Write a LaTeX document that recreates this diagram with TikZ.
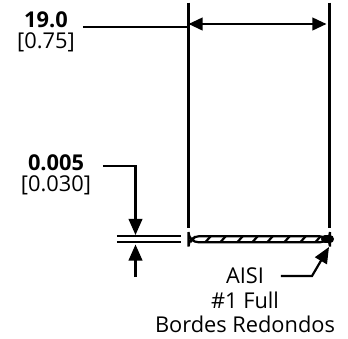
\documentclass[tikz,border=0pt]{standalone}
\usepackage{fontspec}
\setmainfont{Open Sans}
\usetikzlibrary{calc}
\usetikzlibrary{arrows.meta}
\usetikzlibrary{positioning}
\tikzset{
    dimline/.style={draw=black, line width=0.022cm},
    dimarrow/.style={dimline, -{Triangle[length=0.16cm, width=0.135cm]}},
    dimtext/.style={color=black, font=\fontsize{6.2pt}{7pt}\selectfont, inner sep=0pt, anchor=center}
}
\begin{document}
\begin{tikzpicture}[x=0.01cm, y=-0.01cm]
            \useasboundingbox (0,0) rectangle (348,339);
            % edges of the strip
            \coordinate (lefttop)  at (188.5,2.5);
            \coordinate (leftbot)  at (188.5,228);
            \coordinate (righttop) at (329.5,2.5);
            \coordinate (rightbot) at (329.5,228);
            \draw[dimline] (lefttop) -- (leftbot);
            \draw[dimline] (righttop) -- (rightbot);
            % width
            \coordinate (widthl) at (188.5,24);
            \coordinate (widthr) at (326.5,24);
            \draw[dimline, {Triangle[length=0.14cm, width=0.125cm]}-{Triangle[length=0.14cm, width=0.125cm]}] (widthl) -- (widthr);
            \node[dimtext] (widthmm) at (46,19.5) {\textbf{19.0}};
            \node[dimtext] (widthin) at (46,42) {[0.75]};
            \coordinate (widthfrom) at (83,27);
            \coordinate (widthto)   at (188.5,27);
            \draw[dimline] (widthfrom) -- (widthto);
            % thickness
            \node[dimtext] (thickmm) at (56,163) {\textbf{0.005}};
            \node[dimtext] (thickin) at (56,185) {[0.030]};
            \coordinate (thickfrom) at (103,166);
            \coordinate (thickbend) at (135.5,166);
            \coordinate (thicktip)  at (135.5,235);
            \coordinate (thicklow)  at (135.5,277);
            \coordinate (thickup)   at (135.5,244.5);
            \draw[dimarrow] (thickfrom) -- (thickbend) -- (thicktip);
            \draw[dimarrow] (thicklow) -- (thickup);
            \coordinate (refal) at (117,236.3);
            \coordinate (refar) at (181,236.3);
            \coordinate (refbl) at (117,242.3);
            \coordinate (refbr) at (181,242.3);
            \draw[dimline] (refal) -- (refar);
            \draw[dimline] (refbl) -- (refbr);
            % section of the strip
            \foreach \hatchx in {193,208,223,240,255,270,287,303,318} {
                \draw[line width=0.022cm] (\hatchx-2.5,242) -- (\hatchx+2.5,236.5);
            }
            \draw[dimline, rounded corners=2.9] (188.5,236.3) -- (330,236.3) -- (330,242.3) -- (188.5,242.3) -- cycle;
            \coordinate (blobl) at (325,239.3);
            \coordinate (blobr) at (330,239.3);
            \draw[line width=0.08cm, line cap=round] (blobl) -- (blobr);
            % finish
            \node[dimtext] (finisha) at (245,276) {AISI};
            \node[dimtext] (finishb) at (245,300) {\#1 Full};
            \node[dimtext] (finishc) at (245,324) {Bordes Redondos};
            \coordinate (finishfrom) at (281,276);
            \coordinate (finishbend) at (312,276);
            \coordinate (finishtip)  at (329,247);
            \draw[dimarrow] (finishfrom) -- (finishbend) -- (finishtip);
        \end{tikzpicture}
\end{document}
